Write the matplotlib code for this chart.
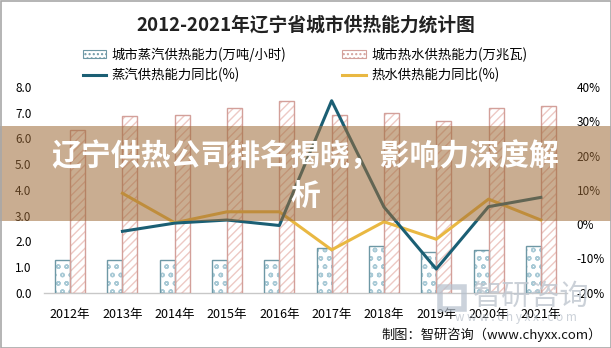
import numpy as np
import matplotlib
matplotlib.use("Agg")
import matplotlib.pyplot as plt
from matplotlib.patches import Rectangle, Patch
from matplotlib.lines import Line2D
from matplotlib.ticker import FuncFormatter

plt.rcParams['font.family'] = ['Noto Sans CJK SC', 'DejaVu Sans']
plt.rcParams['hatch.linewidth'] = 1.0

years = ["2012年", "2013年", "2014年", "2015年", "2016年",
         "2017年", "2018年", "2019年", "2020年", "2021年"]
steam_cap = [1.28, 1.28, 1.28, 1.28, 1.28, 1.74, 1.83, 1.58, 1.67, 1.83]
water_cap = [6.32, 6.88, 6.93, 7.19, 7.45, 6.91, 6.99, 6.68, 7.19, 7.26]
steam_yoy = [None, -2.1, 0.3, 1.2, -0.4, 36.0, 5.0, -13.1, 5.1, 7.8]
water_yoy = [None, 9.0, 0.4, 3.6, 3.6, -7.5, 0.7, -4.4, 7.3, 1.2]

title = "2012-2021年辽宁省城市供热能力统计图"
leg_labels = ["城市蒸汽供热能力(万吨/小时)", "蒸汽供热能力同比(%)",
              "城市热水供热能力(万兆瓦)", "热水供热能力同比(%)"]
banner1 = "辽宁供热公司排名揭晓，影响力深度解"
banner2 = "析"
source = "制图：智研咨询（www.chyxx.com）"

W, H = 611, 348
fig = plt.figure(figsize=(W / 100, H / 100), dpi=100)
fig.patch.set_facecolor("white")

def fx(px):
    return px / W

def fy(py):
    return 1 - py / H

ax = fig.add_axes([fx(44), fy(292.7), fx(567) - fx(44), fy(87) - fy(292.7)])
x = np.arange(len(years))
w = 0.287

steam_edge = "#6E98A5"
steam_hatch = "#A9CAD6"
water_edge = "#D3A09A"
water_hatch = "#EDC9C4"

# hatch layers
ax.bar(x - w / 2, steam_cap, w, facecolor="white", edgecolor=steam_hatch,
       linewidth=0, hatch="oo", zorder=2)
ax.bar(x + w / 2, water_cap, w, facecolor="white", edgecolor=water_hatch,
       linewidth=0, hatch="////", zorder=2)
# outlines
ax.bar(x - w / 2, steam_cap, w, facecolor="none", edgecolor=steam_edge,
       linewidth=1.0, zorder=3)
ax.bar(x + w / 2, water_cap, w, facecolor="none", edgecolor=water_edge,
       linewidth=1.0, zorder=3)

ax.set_xlim(-0.5, len(years) - 0.5)
ax.set_ylim(0, 8)
ax.set_yticks(np.arange(0, 8.1, 1.0))
ax.yaxis.set_major_formatter(FuncFormatter(lambda v, p: f"{v:.1f}"))
ax.set_xticks(x)
ax.set_xticklabels(years, fontsize=9)
ax.tick_params(axis="both", length=0)
ax.tick_params(axis="y", labelsize=8.5, pad=9)
ax.tick_params(axis="x", pad=11)
for s in ["top", "left", "right"]:
    ax.spines[s].set_visible(False)
ax.spines["bottom"].set_color("#C8C8C8")
ax.spines["bottom"].set_linewidth(1.0)

ax2 = ax.twinx()
ax2.set_ylim(-20, 40)
ax2.set_yticks(np.arange(-20, 41, 10))
ax2.yaxis.set_major_formatter(FuncFormatter(lambda v, p: f"{int(v)}%"))
ax2.tick_params(axis="y", length=0, labelsize=8.5, pad=7)
for s in ["top", "left", "right", "bottom"]:
    ax2.spines[s].set_visible(False)

steam_color = "#1B5F74"
water_color = "#E9B842"
sx = [xi for xi, v in zip(x, steam_yoy) if v is not None]
sv = [v for v in steam_yoy if v is not None]
wxv = [xi for xi, v in zip(x, water_yoy) if v is not None]
wv = [v for v in water_yoy if v is not None]
ax2.plot(wxv, wv, color=water_color, linewidth=2.2, zorder=4)
ax2.plot(sx, sv, color=steam_color, linewidth=2.2, zorder=5)

# title
fig.text(0.5, fy(25), title, ha="center", va="center", fontsize=13.5,
         fontweight="bold", color="#222222")

# legend
handles = [
    Patch(facecolor="white", edgecolor=steam_edge, hatch="....", linewidth=0.8),
    Line2D([0], [0], color=steam_color, linewidth=2.2),
    Patch(facecolor="white", edgecolor=water_edge, hatch="....", linewidth=0.8),
    Line2D([0], [0], color=water_color, linewidth=2.2),
]
fig.legend(handles, leg_labels, ncol=2, loc="center", bbox_to_anchor=(fx(305), fy(65)),
           frameon=False, fontsize=9.6, handlelength=1.75, handleheight=0.55,
           handletextpad=0.4, columnspacing=4.2, labelspacing=0.45)

# watermark
fig.text(fx(473), fy(297), "智研咨询", ha="left", va="center", fontsize=21,
         color="#BFC6CF", alpha=0.8, zorder=6)
fig.text(fx(516), fy(318), "w w w . c h y x x . c o m", ha="center", va="center",
         fontsize=8.5, color="#BFC6CF", alpha=0.8, zorder=6)
fig.patches.append(Rectangle((fx(440), fy(309)), fx(24), fy(287) - fy(309),
                             transform=fig.transFigure, facecolor="none",
                             edgecolor="#B5C0CD", linewidth=4, alpha=0.7, zorder=6))

# source
fig.text(fx(602), fy(335), source, ha="right", va="center", fontsize=9.5,
         color="#111111")

# banner overlay
fig.patches.append(Rectangle((0, fy(221)), 1, fy(126) - fy(221),
                             transform=fig.transFigure, facecolor=(0.62, 0.42, 0.22),
                             alpha=0.55, linewidth=0, zorder=10))
fig.text(0.5, fy(156), banner1, ha="center", va="center", fontsize=21.5,
         fontweight="bold", color="white", zorder=11)
fig.text(0.5, fy(196), banner2, ha="center", va="center", fontsize=21.5,
         fontweight="bold", color="white", zorder=11)

# outer border
fig.patches.append(Rectangle((0.5 / W, 0.5 / H), 1 - 1.0 / W, 1 - 1.0 / H,
                             transform=fig.transFigure, facecolor="none",
                             edgecolor="#A8A8A8", linewidth=1.2, zorder=12))

fig.savefig("out.png", dpi=100)
